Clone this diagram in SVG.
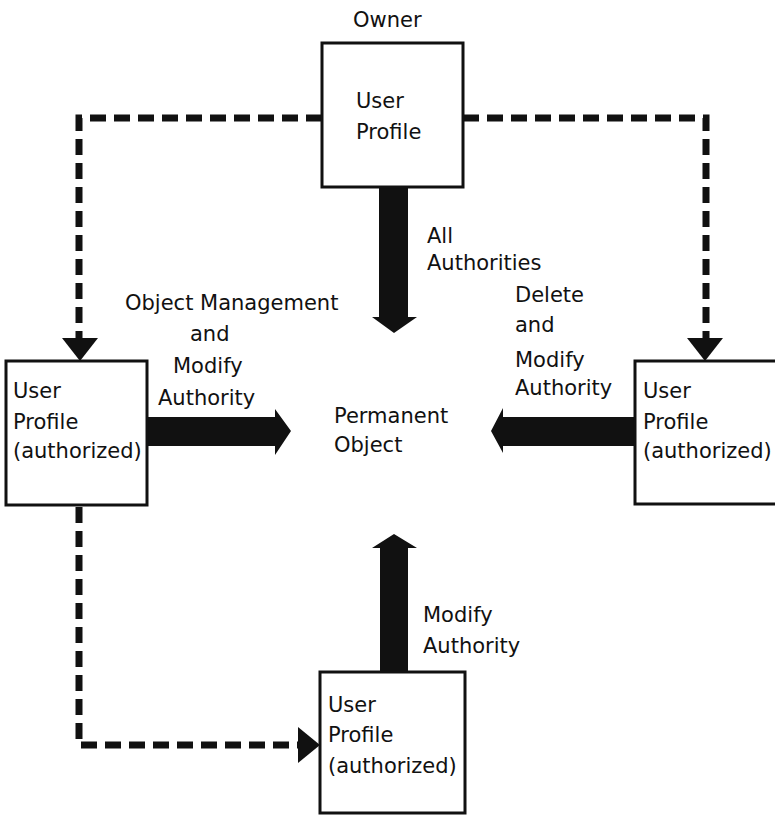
<svg xmlns="http://www.w3.org/2000/svg" width="775" height="815" viewBox="0 0 775 815">
<style>
.t{font-family:"DejaVu Sans",sans-serif;font-size:21px;fill:#111}
.box{fill:#fff;stroke:#111;stroke-width:3}
.dash{fill:none;stroke:#111;stroke-width:7;stroke-dasharray:16 8}
.solid{fill:#111;stroke:none}
</style>
<rect width="775" height="815" fill="#fff"/>
<g id="connectors">
<path class="dash" d="M322,118 H79 V338"/>
<polygon class="solid" points="62,338 98,338 80,361"/>
<path class="dash" d="M463,118 H706 V338"/>
<polygon class="solid" points="687,338 723,338 705,361"/>
<path class="dash" d="M79,507 V745 H298"/>
<polygon class="solid" points="298,727 298,763 320,745"/>
<polygon class="solid" points="379,187 408,187 408,317 417,317 394,333 372,317 379,317"/>
<polygon class="solid" points="147,417 275,417 275,409 291,431 275,455 275,446 147,446"/>
<polygon class="solid" points="635,417 503,417 503,408 491,431 503,453 503,446 635,446"/>
<polygon class="solid" points="380,672 380,548 372,548 394,534 417,548 408,548 408,672"/>
<text class="t" x="427" y="243">All</text>
<text class="t" x="427" y="270">Authorities</text>
<text class="t" x="125" y="310">Object Management</text>
<text class="t" x="190" y="341">and</text>
<text class="t" x="173" y="373">Modify</text>
<text class="t" x="158" y="405">Authority</text>
<text class="t" x="515" y="302">Delete</text>
<text class="t" x="515" y="332">and</text>
<text class="t" x="515" y="367">Modify</text>
<text class="t" x="515" y="395">Authority</text>
<text class="t" x="423" y="622">Modify</text>
<text class="t" x="423" y="653">Authority</text>
</g>
<g id="owner">
<text class="t" x="353" y="27">Owner</text>
<rect class="box" x="322" y="43" width="141" height="144"/>
<text class="t" x="356" y="108">User</text>
<text class="t" x="356" y="139">Profile</text>
</g>
<g id="object">
<text class="t" x="334" y="423">Permanent</text>
<text class="t" x="334" y="452">Object</text>
</g>
<g id="left-user">
<rect class="box" x="6" y="361" width="141" height="144"/>
<text class="t" x="13" y="398">User</text>
<text class="t" x="13" y="429">Profile</text>
<text class="t" x="13" y="458">(authorized)</text>
</g>
<g id="right-user">
<rect class="box" x="635" y="361" width="150" height="143"/>
<text class="t" x="643" y="398">User</text>
<text class="t" x="643" y="429">Profile</text>
<text class="t" x="643" y="458">(authorized)</text>
</g>
<g id="bottom-user">
<rect class="box" x="320" y="672" width="145" height="141"/>
<text class="t" x="328" y="712">User</text>
<text class="t" x="328" y="742">Profile</text>
<text class="t" x="328" y="773">(authorized)</text>
</g>
</svg>
